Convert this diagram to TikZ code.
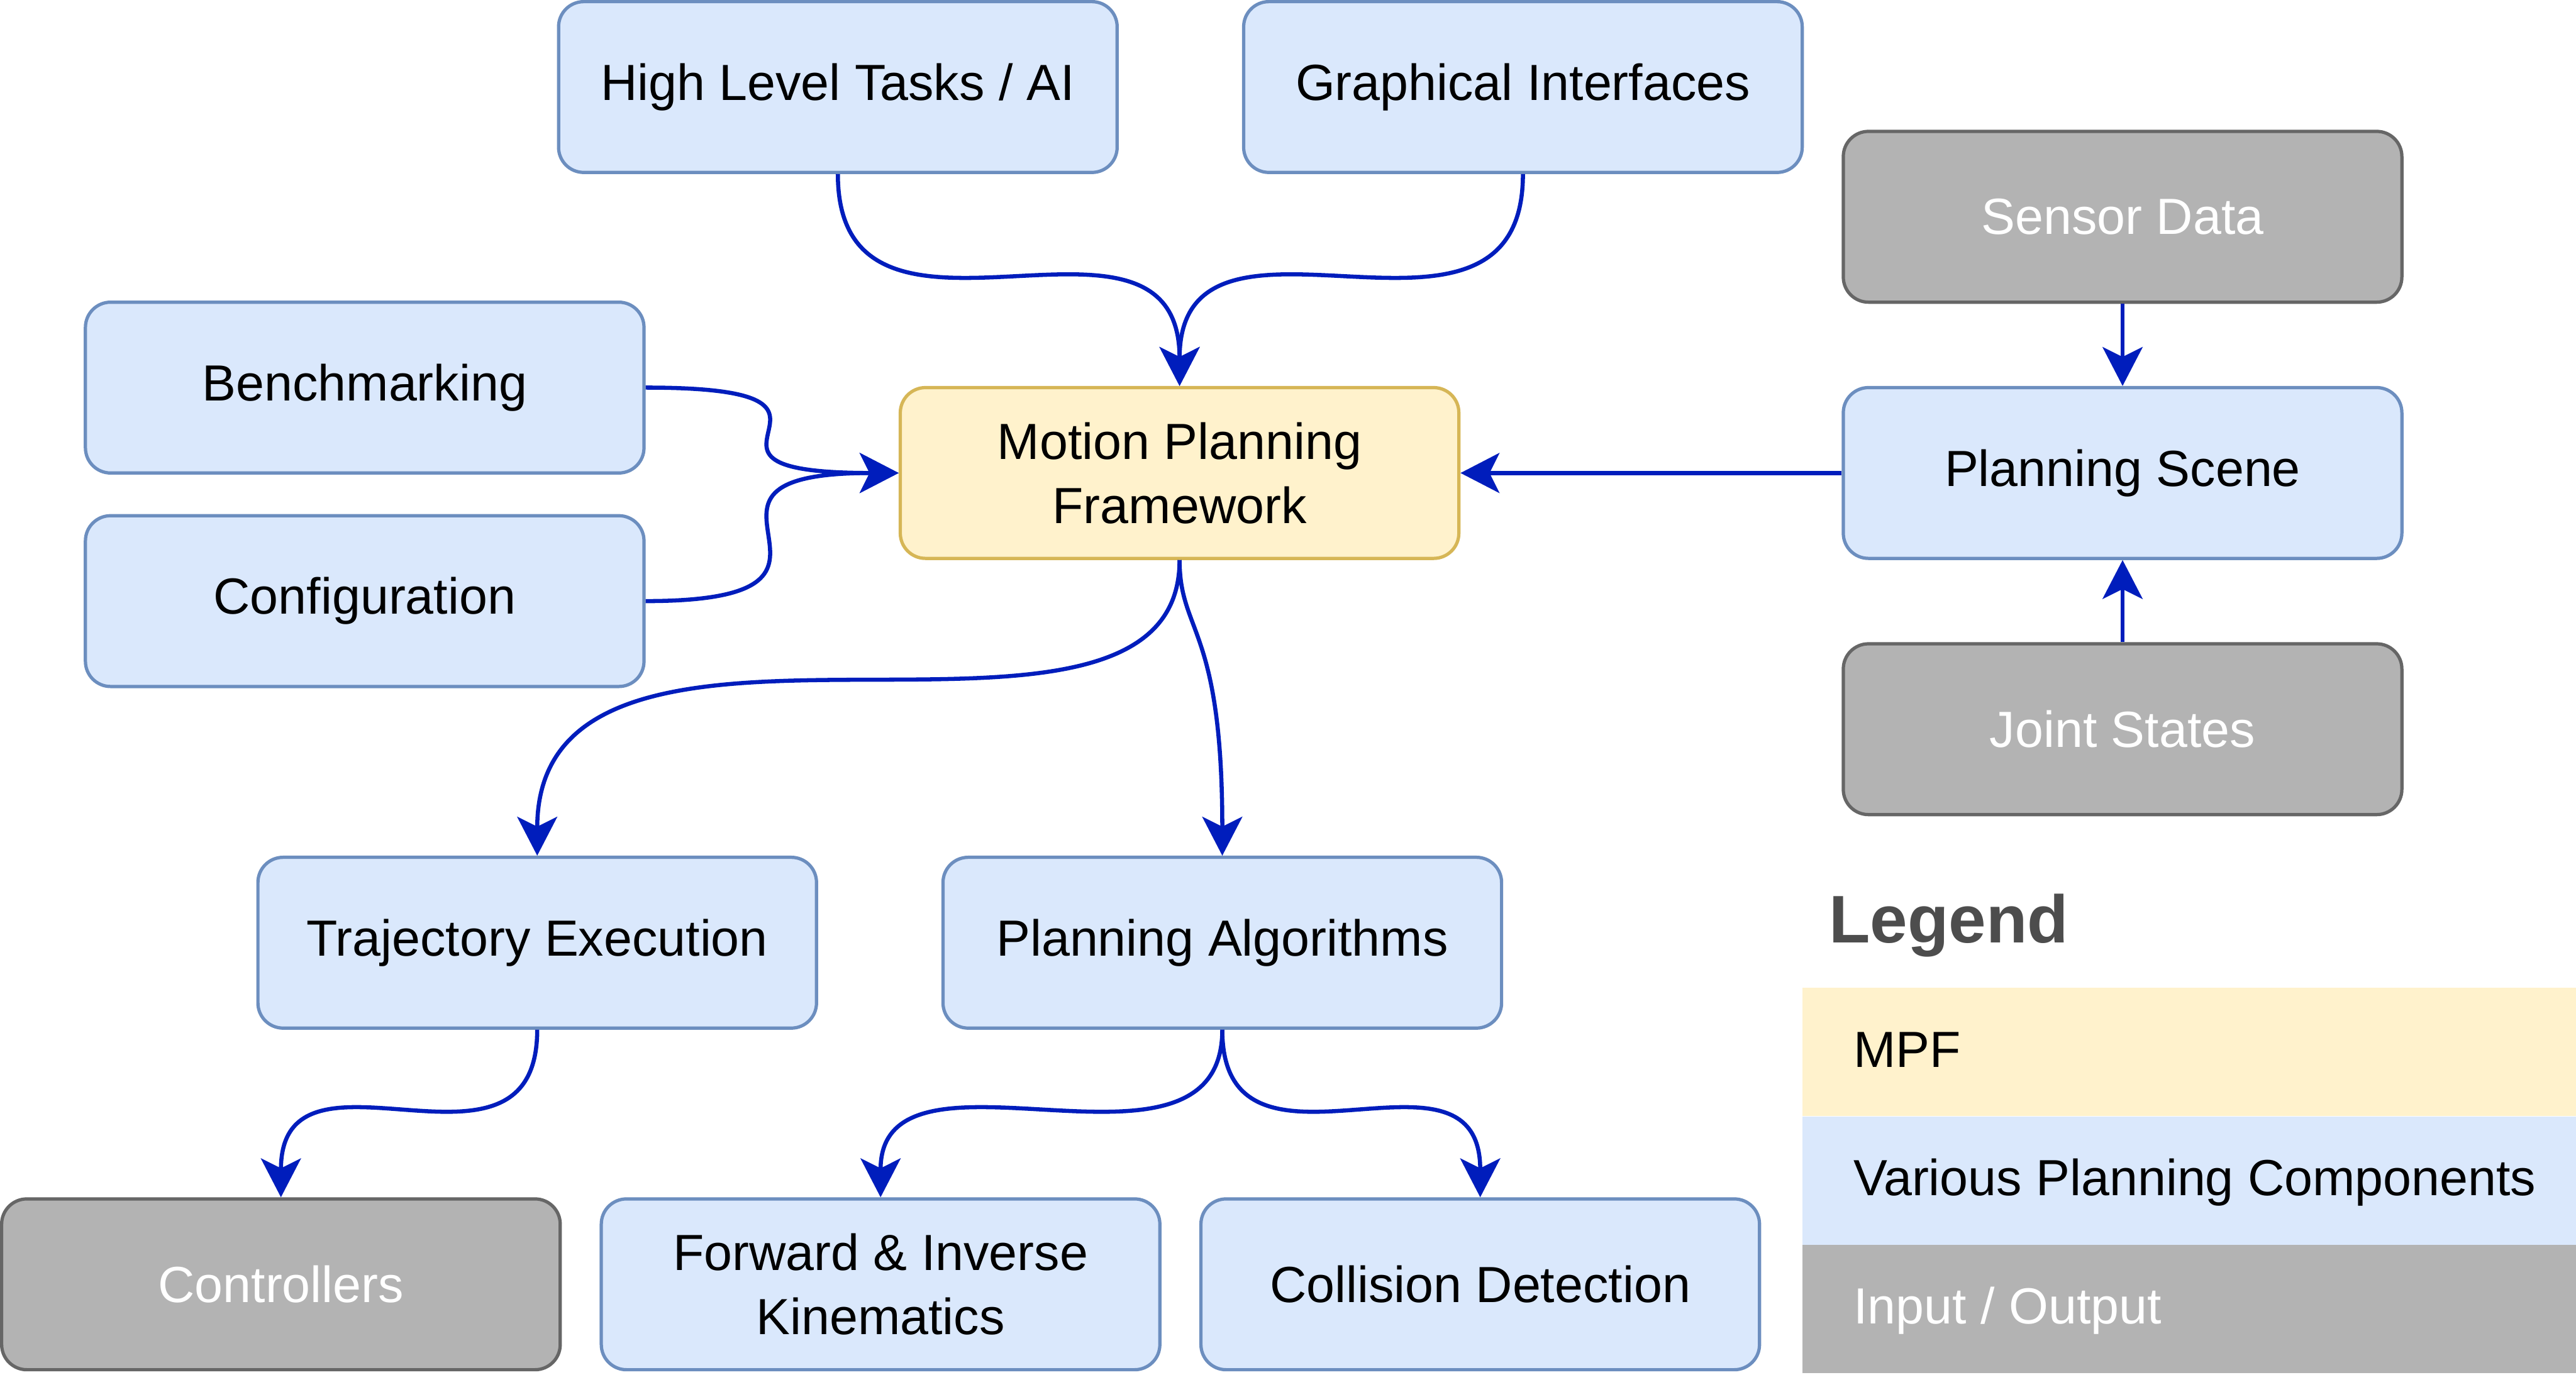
\documentclass[tikz,border=0pt]{standalone}
\usepackage{fontspec}
\setmainfont{Liberation Sans}
\usepackage{tikz}
\usetikzlibrary{arrows.meta,positioning}
\definecolor{mpfyellow}{HTML}{FFF2CC}
\definecolor{mpfyellowline}{HTML}{D6B656}
\definecolor{compblue}{HTML}{DAE8FC}
\definecolor{compblueline}{HTML}{6C8EBF}
\definecolor{iogray}{HTML}{B3B3B3}
\definecolor{iograyline}{HTML}{666666}
\definecolor{flowblue}{HTML}{001DBC}
\definecolor{legendgray}{HTML}{4D4D4D}
\tikzstyle{box} = [rectangle, rounded corners=4.6mm, minimum width=102mm, minimum height=31.2mm, align=center, line width=0.6mm, font=\fontsize{26.4}{33.3}\selectfont]
\tikzstyle{component} = [box, draw=compblueline, fill=compblue]
\tikzstyle{framework} = [box, draw=mpfyellowline, fill=mpfyellow]
\tikzstyle{io} = [box, draw=iograyline, fill=iogray, text=white]
\tikzstyle{band} = [rectangle, minimum width=141.3mm, minimum height=23.4mm, inner sep=0pt]
\tikzstyle{bandtext} = [anchor=base west, inner sep=0pt, font=\fontsize{26.4}{33.3}\selectfont]
\tikzstyle{arrow} = [line width=0.75mm, color=flowblue, -{Stealth[length=7.1mm, width=7.3mm, inset=1.8mm]}]

\begin{document}
\begin{tikzpicture}[x=0.3mm, y=-0.3mm]
\useasboundingbox (0,0) rectangle (1568,837);

% Components
\node (hla) [component] at (510,53) {High Level Tasks / AI};
\node (gui) [component] at (927,53) {Graphical Interfaces};
\node (sensor) [io] at (1292,132) {Sensor Data};
\node (bench) [component] at (222,236) {Benchmarking};
\node (mpf) [framework] at (718,288) {Motion Planning\\Framework};
\node (scene) [component] at (1292,288) {Planning Scene};
\node (config) [component] at (222,366) {Configuration};
\node (joint) [io] at (1292,444) {Joint States};
\node (traj) [component] at (327,574) {Trajectory Execution};
\node (algo) [component] at (744,574) {Planning Algorithms};
\node (ctrl) [io] at (171,782) {Controllers};
\node (kin) [component] at (536,782) {Forward \& Inverse\\Kinematics};
\node (coll) [component] at (901,782) {Collision Detection};

% Arrows into the framework
\draw[arrow] (hla.south) .. controls +(0,131) and +(0,-131) .. (mpf.north);
\draw[arrow] (gui.south) .. controls +(0,131) and +(0,-131) .. (mpf.north);
\draw[arrow] (bench.east) .. controls +(157,0) and +(-157,0) .. (mpf.west);
\draw[arrow] (config.east) .. controls +(157,0) and +(-157,0) .. (mpf.west);
\draw[arrow] (scene.west) -- (mpf.east);
\draw[arrow] (sensor.south) -- (scene.north);
\draw[arrow] (joint.north) -- (scene.south);

% Arrows out of the framework
\draw[arrow] (mpf.south) .. controls +(0,150) and +(0,-190) .. (traj.north);
\draw[arrow] (mpf.south) .. controls +(0,45) and +(0,-140) .. (algo.north);
\draw[arrow] (traj.south) .. controls +(0,105) and +(0,-105) .. (ctrl.north);
\draw[arrow] (algo.south) .. controls +(0,105) and +(0,-105) .. (kin.north);
\draw[arrow] (algo.south) .. controls +(0,105) and +(0,-105) .. (coll.north);

% Legend
\node (legend) [anchor=base west, inner sep=0pt, text=legendgray, font=\bfseries\fontsize{35}{42}\selectfont] at (1113,574) {Legend};
\node (legmpf) [band, fill=mpfyellow] at (1332.5,640.5) {};
\node (legcomp) [band, fill=compblue] at (1332.5,719) {};
\node (legio) [band, fill=iogray] at (1332.5,797) {};
\node (legmpftext) [bandtext] at (1128,650) {MPF};
\node (legcomptext) [bandtext] at (1128,728) {Various Planning Components};
\node (legiotext) [bandtext, text=white] at (1128,806) {Input / Output};
\end{tikzpicture}
\end{document}
